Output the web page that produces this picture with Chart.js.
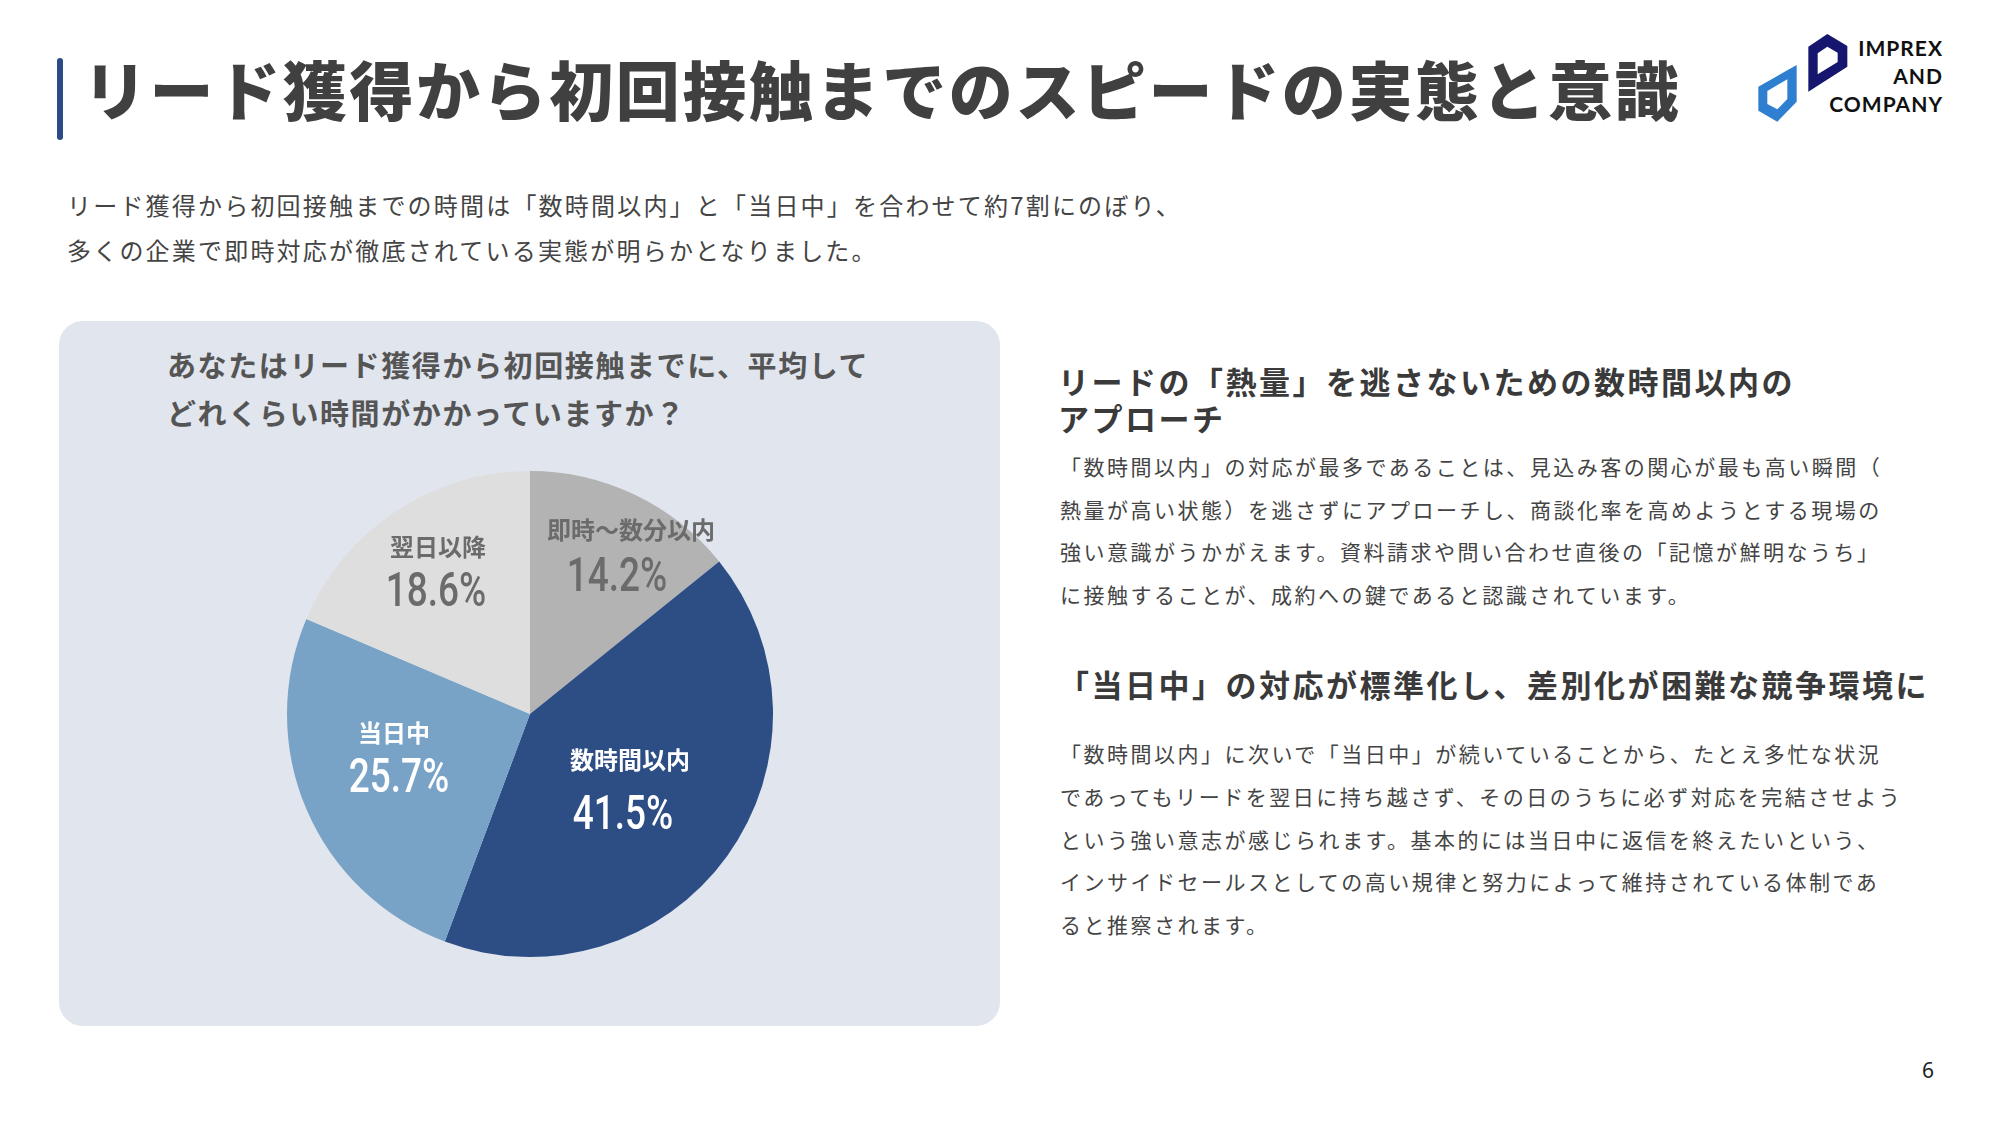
<!DOCTYPE html>
<html lang="ja">
<head>
<meta charset="utf-8">
<title>リード獲得から初回接触までのスピードの実態と意識</title>
<script src="https://cdn.jsdelivr.net/npm/chart.js@4.4.1/dist/chart.umd.min.js"></script>
<style>
  html, body { margin: 0; padding: 0; }
  body {
    width: 1999px; height: 1125px; position: relative; overflow: hidden;
    background: #ffffff; font-family: "Noto Sans CJK JP", "Noto Sans", sans-serif;
  }
  .abs { position: absolute; white-space: nowrap; }
  #bar { left: 57px; top: 58px; width: 6px; height: 82px; background: #2c4a86; border-radius: 3px; }
  #title { left: 83px; top: 47px; font-size: 64px; line-height: 80px; font-weight: 900; letter-spacing: 2.6px; color: #404040; }
  #lead { left: 67px; top: 182px; font-size: 24px; line-height: 45px; letter-spacing: 2.2px; color: #444; }
  #panel { left: 59px; top: 321px; width: 941px; height: 705px; background: #e0e5ee; border-radius: 24px; }
  #question { left: 167px; top: 340px; font-size: 29px; line-height: 48px; font-weight: 700; letter-spacing: 1.6px; color: #555; }
  #pieBox { left: 287px; top: 471px; width: 486px; height: 486px; }
  .head { font-size: 31px; font-weight: 700; letter-spacing: 2.5px; color: #3a3a3a; }
  .para { font-size: 21px; letter-spacing: 2.5px; color: #444; }
  #h1 { left: 1058px; top: 362px; line-height: 37px; }
  #p1 { left: 1060px; top: 445px; line-height: 42.5px; }
  #h2 { left: 1058px; top: 664px; line-height: 40px; }
  #p2 { left: 1060px; top: 732px; line-height: 42.75px; }
  #page { left: 1922px; top: 1056px; font-size: 21px; line-height: 28px; color: #222; font-family: "Noto Sans", sans-serif; }
  #logo { left: 1740px; top: 20px; width: 240px; height: 120px; }
  #logoText { right: 56px; top: 34px; text-align: right; font-family: Lato, sans-serif; font-weight: 700; font-size: 21px; line-height: 28px; letter-spacing: 1px; color: #111; }
</style>
</head>
<body>
<div id="bar" class="abs"></div>
<div id="title" class="abs">リード獲得から初回接触までのスピードの実態と意識</div>

<svg id="logo" class="abs" viewBox="0 0 720 360">
  <path fill="#16166e" fill-rule="evenodd"
        d="M205 80 L262 42 L322 78 L322 140 L205 215 Z M233 100 L262 80 L293 98 L293 126 L233 163 Z"/>
  <path fill="#2f7fd0" fill-rule="evenodd"
        d="M170 135 L170 245 L112 305 L55 272 L55 200 Z M142 178 L82 213 L82 252 L112 268 L142 237 Z"/>
</svg>
<div id="logoText" class="abs">IMPREX<br>AND<br>COMPANY</div>

<div id="lead" class="abs">リード獲得から初回接触までの時間は「数時間以内」と「当日中」を合わせて約7割にのぼり、<br>多くの企業で即時対応が徹底されている実態が明らかとなりました。</div>

<div id="panel" class="abs"></div>
<div id="question" class="abs">あなたはリード獲得から初回接触までに、平均して<br>どれくらい時間がかかっていますか？</div>
<div id="pieBox" class="abs"><canvas id="pie"></canvas></div>

<div id="h1" class="abs head">リードの「熱量」を逃さないための数時間以内の<br>アプローチ</div>
<div id="p1" class="abs para">「数時間以内」の対応が最多であることは、見込み客の関心が最も高い瞬間（<br>熱量が高い状態）を逃さずにアプローチし、商談化率を高めようとする現場の<br>強い意識がうかがえます。資料請求や問い合わせ直後の「記憶が鮮明なうち」<br>に接触することが、成約への鍵であると認識されています。</div>
<div id="h2" class="abs head">「当日中」の対応が標準化し、差別化が困難な競争環境に</div>
<div id="p2" class="abs para">「数時間以内」に次いで「当日中」が続いていることから、たとえ多忙な状況<br>であってもリードを翌日に持ち越さず、その日のうちに必ず対応を完結させよう<br>という強い意志が感じられます。基本的には当日中に返信を終えたいという、<br>インサイドセールスとしての高い規律と努力によって維持されている体制であ<br>ると推察されます。</div>
<div id="page" class="abs">6</div>

<script>
// 回答の内訳（%）
const categories = ['即時〜数分以内', '数時間以内', '当日中', '翌日以降'];
const shares = [14.2, 41.5, 25.7, 18.6];

const sliceColors = ['#b3b3b3', '#2d4d85', '#78a3c7', '#dedede'];
const labelColors = ['#6b6b6b', '#ffffff', '#ffffff', '#6b6b6b'];
// ラベル位置: [名前dx, 名前dy, 数値dx, 数値dy]（半径比）
const labelLayout = [
    [0.416, -0.757, 0.358, -0.576],
    [0.412, 0.189, 0.383, 0.403],
    [-0.560, 0.078, -0.539, 0.251],
    [-0.379, -0.687, -0.387, -0.514]
];

const sliceLabels = {
    id: 'sliceLabels',
    afterDatasetsDraw(chart) {
        const ctx = chart.ctx;
        const arcs = chart.getDatasetMeta(0).data;
        arcs.forEach((arc, i) => {
            const r = arc.outerRadius;
            const lay = labelLayout[i];
            ctx.save();
            ctx.fillStyle = labelColors[i];
            ctx.textAlign = 'center';
            ctx.textBaseline = 'middle';
            ctx.font = 'bold 24px "Noto Sans CJK JP"';
            ctx.fillText(chart.data.labels[i], arc.x + lay[0] * r, arc.y + lay[1] * r);
            ctx.textBaseline = 'alphabetic';
            ctx.translate(arc.x + lay[2] * r, arc.y + lay[3] * r + 17);
            ctx.scale(0.77, 1);
            ctx.font = '500 48px Roboto';
            ctx.fillText(shares[i].toFixed(1) + '%', 0, 0);
            ctx.restore();
        });
    }
};

const ctx = document.getElementById('pie');
const pieChart = new Chart(ctx, {
    type: 'pie',
    data: {
        labels: categories,
        datasets: [{
            data: shares,
            backgroundColor: sliceColors,
            borderWidth: 0
        }]
    },
    options: {
        responsive: true,
        maintainAspectRatio: false,
        animation: false,
        layout: { padding: 0 },
        plugins: {
            legend: { display: false },
            tooltip: { enabled: false }
        }
    },
    plugins: [sliceLabels]
});
</script>
</body>
</html>
